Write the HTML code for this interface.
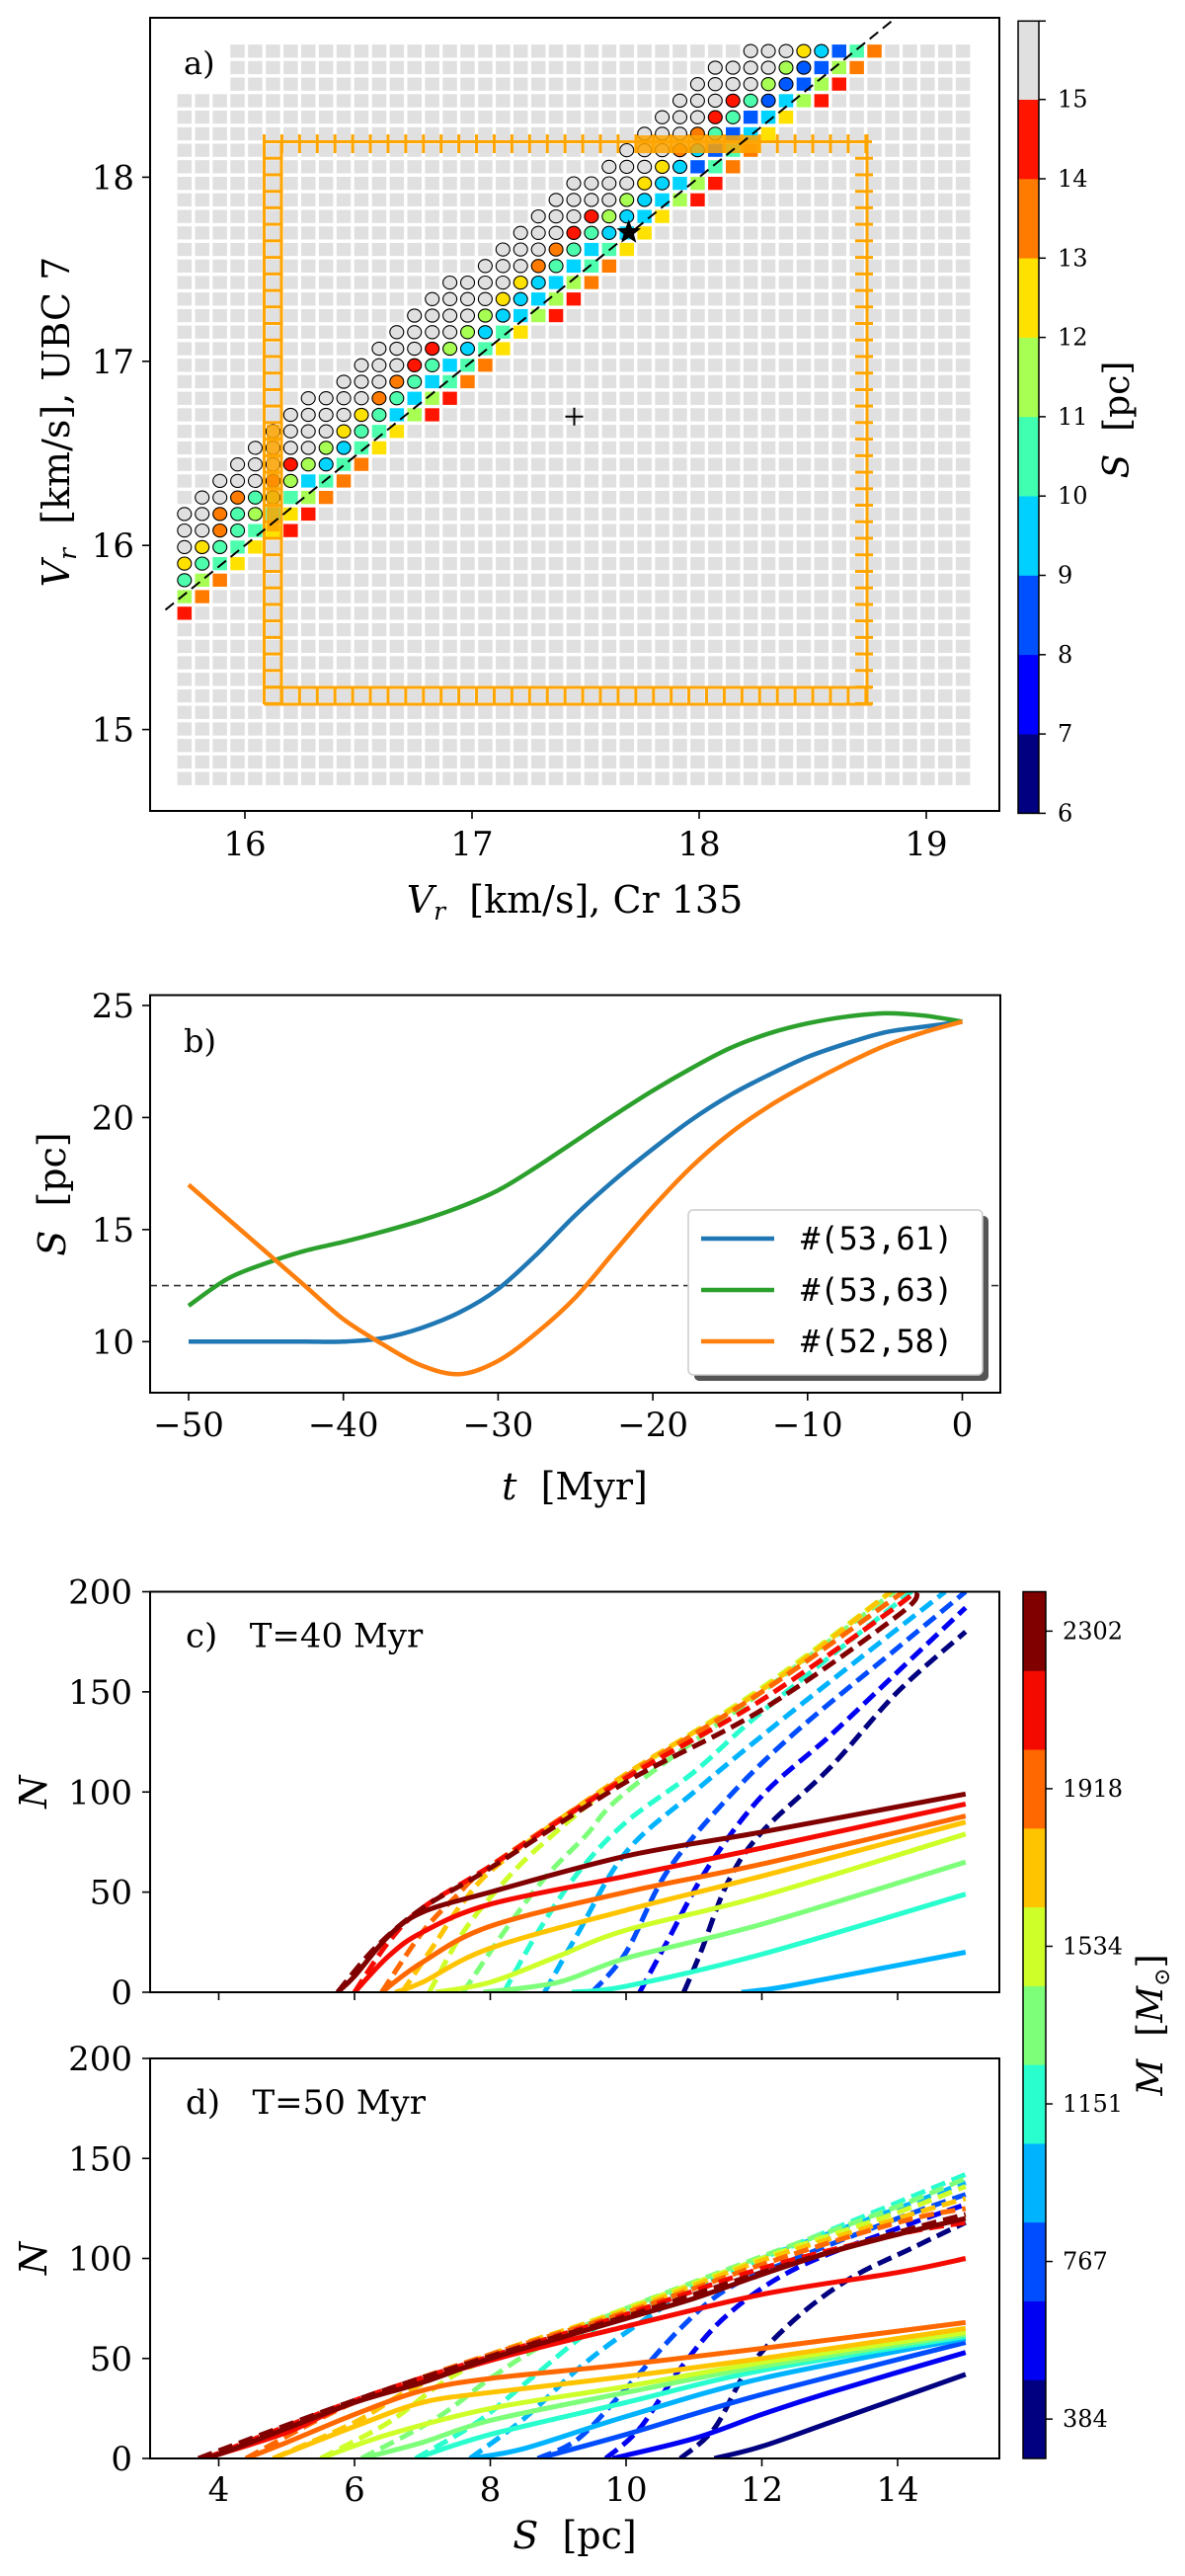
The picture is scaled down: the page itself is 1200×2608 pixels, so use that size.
<!DOCTYPE html>
<html><head><meta charset="utf-8"><style>
html,body{margin:0;padding:0;background:#fff}
svg{display:block}
text{font-family:"DejaVu Serif","Liberation Serif",serif;fill:#000}
.mono{font-family:"DejaVu Sans Mono","Liberation Mono",monospace}
</style></head><body>
<svg id="fig" xmlns="http://www.w3.org/2000/svg" width="1200" height="2608" viewBox="0 0 1200 2608">
<defs>
<clipPath id="clipA"><rect x="152" y="18" width="860" height="803"/></clipPath>
<clipPath id="clipB"><rect x="152" y="1007.5" width="861" height="402.5"/></clipPath>
<clipPath id="clipC"><rect x="152" y="1611.5" width="860" height="405.5"/></clipPath>
<clipPath id="clipD"><rect x="152" y="2084" width="860" height="405"/></clipPath>
</defs>
<g id="panelA"></g>
<g id="panelB"></g>
<g id="panelC"></g>
<g id="panelD"></g>
<g id="cbars"></g>
</svg>
<script>
// ---------- Panel a data ----------
const gridX0 = 15.734, gridDX = 0.0779, gridYTop = 18.685, gridDY = 0.0898;
const gridCols = 45, gridRows = 45;
// band rows: [startCol, circle codes, square codes]
const bandRows = [
 [32,"GGGYC","BAO"],[30,"GGGGLB","BLO"],[29,"GGGGLB","BLR"],[28,"GGGRAB","CLR"],
 [27,"GGGRA","BCY"],[26,"GGGOA","BCY"],[25,"GGGOC","BAO"],[24,"GGGYC","BAO"],
 [22,"GGGGYC","CLR"],[21,"GGGGLC","CLR"],[20,"GGGRLC","CY"],[19,"GGGRAC","CY"],
 [18,"GGGOA","CAY"],[17,"GGGOA","CAO"],[15,"GGGGYC","CLO"],[14,"GGGGYC","CLR"],
 [13,"GGGGLC","CLR"],[12,"GGGGLC","AY"],[11,"GGGRLC","AY"],[10,"GGGRA","CAO"],
 [9,"GGGOA","CAO"],[7,"GGGGOA","CLR"],[6,"GGGGYA","CLR"],[5,"GGGGYA","AY"],
 [4,"GGGGLC","AY"],[3,"GGGRLC","AO"],[2,"GGGRL","CAO"],[1,"GGOAL","ALO"],
 [0,"GGOAL","AYR"],[0,"GGOA","AYR"],[0,"GYA","AY"],[0,"YA","AY"],[0,"A","LO"],[0,"","LO"],[0,"","R"]
];
const starPoint = [17.69, 17.70];
const plusPoint = [17.45, 16.70];
const aXTicks = [16,17,18,19];
const aYTicks = [15,16,17,18];
const sLevels = [6,7,8,9,10,11,12,13,14,15];
// ---------- Panel b data ----------
const tVals = [-50,-47.5,-45,-42.5,-40,-37.5,-35,-32.5,-30,-27.5,-25,-22.5,-20,-17.5,-15,-12.5,-10,-7.5,-5,-2.5,0];
const sBlue = [10,10,10,10,10,10.15,10.6,11.3,12.35,13.9,15.65,17.2,18.6,19.9,21.0,21.9,22.7,23.3,23.8,24.05,24.28];
const sGreen = [11.6,12.8,13.5,14.05,14.45,14.9,15.4,16.0,16.75,17.8,18.95,20.1,21.2,22.2,23.1,23.75,24.2,24.5,24.65,24.55,24.28];
const sOrange = [17.0,15.5,14.0,12.5,11.0,9.9,8.95,8.55,9.14,10.4,11.98,14.0,16.0,17.8,19.3,20.5,21.5,22.4,23.2,23.8,24.28];
const thresholdS = 12.5;
const legendLabels = ["#(53,61)","#(53,63)","#(52,58)"];
const bXTicks = [-50,-40,-30,-20,-10,0];
const bYTicks = [10,15,20,25];
// ---------- Panels c/d data ----------
const massLabels = [384,576,767,959,1151,1343,1534,1726,1918,2110,2302];
const cSolid = [[],[],[],
 [[11.7,0],[12.2,2],[13,7],[15,20]],
 [[9.2,0],[10,3],[12,19],[15,49]],
 [[7.9,0],[9,5],[10,17],[12,34],[15,65]],
 [[7.2,0],[8,5],[9,18],[10,31],[12,48],[15,79]],
 [[6.6,0],[7,5],[8,22],[10,41],[12,58],[15,85]],
 [[6.4,0],[7,15],[8,33],[10,50],[12,64],[15,88]],
 [[6.0,0],[6.5,18],[7,30],[8,44],[10,58],[12,72],[15,94]],
 [[5.75,0],[6.0,8],[6.5,28],[7.0,40],[8,50],[10,68],[12,80],[15,99]]];
const cDashed = [
 [[10.85,0],[11.1,20],[11.5,55],[12,80],[13,112],[14,150],[15,180]],
 [[10.2,0],[10.6,25],[11.2,62],[12,98],[13,128],[14,160],[15,192]],
 [[9.5,0],[10,20],[10.6,60],[11.5,97],[12.5,130],[14,172],[15,200]],
 [[8.8,0],[9.3,30],[10,70],[11,100],[12,128],[13,155],[14.7,200]],
 [[8.2,0],[8.7,30],[9.3,60],[10,85],[11,110],[12,140],[14.2,200]],
 [[7.6,0],[8.2,30],[8.8,57],[9.4,78],[10,100],[12,150],[13.95,200]],
 [[7.1,0],[7.6,30],[8.2,55],[8.8,75],[10,108],[12,152],[13.9,200]],
 [[6.7,0],[7.2,25],[7.6,45],[8.2,66],[10,109],[12,151],[13.9,200]],
 [[6.4,0],[7,30],[7.5,48],[8,63],[10,108],[12,150],[14,198],[14.05,200]],
 [[6.0,0],[6.5,25],[7,42],[8,63],[10,107],[12,146],[14,193],[14.2,200]],
 [[5.75,0],[6.3,22],[7,42],[8,62],[10,105],[12,141],[14,188],[14.3,200]]];
const dSolid = [
 [[11.3,0],[12,6],[13,18],[14,30],[15,42]],
 [[9.8,0],[11,10],[12,22],[13,33],[15,53]],
 [[8.7,0],[10,12],[12,32],[15,58]],
 [[7.7,0],[8.5,5],[10,21],[12,40],[15,60]],
 [[6.9,0],[8,12],[10,28],[12,44],[15,61]],
 [[6.1,0],[7,8],[8,19],[10,33],[12,46],[15,62]],
 [[5.5,0],[6.5,12],[8,25],[10,36],[12,48],[15,63]],
 [[4.8,0],[6,16],[7,28],[8,33],[10,41],[12,50],[15,65]],
 [[4.4,0],[5,8],[6,22],[7,34],[8,40],[10,47],[12,55],[15,68]],
 [[3.8,0],[5,13],[6,28],[8,49],[10,66],[12,82],[14,93],[15,100]],
 [[3.7,0],[4,2],[5,15],[6,28],[7,38],[8,50],[9,60],[10,70],[11,80],[12,92],[13,103],[14,112],[15,120]]];
const dDashed = [
 [[10.8,0],[11.3,15],[11.8,45],[12.5,70],[13.3,90],[14.2,105],[15,118]],
 [[9.7,0],[10.2,15],[10.8,45],[11.5,72],[12.5,95],[14,115],[15,127]],
 [[8.7,0],[9.3,10],[10,35],[10.8,65],[11.5,85],[12.5,100],[14,120],[15,132]],
 [[7.7,0],[8.5,20],[9.3,45],[10,63],[11,85],[12,100],[14,125],[15,138]],
 [[6.9,0],[7.8,18],[8.6,40],[9.4,62],[10,72],[12,100],[14,128],[15,142]],
 [[6.1,0],[7.2,20],[8,40],[8.8,57],[10,75],[12,101],[14,126],[15,140]],
 [[5.5,0],[6.5,18],[7.3,38],[8,50],[10,75],[12,100],[14,123],[15,136]],
 [[4.8,0],[6,18],[6.8,34],[8,52],[10,74],[12,99],[14,120],[15,130]],
 [[4.4,0],[5.5,20],[6.3,32],[8,52],[10,73],[12,97],[14,118],[15,125]],
 [[3.8,0],[6,29],[8,51],[10,72],[12,95],[14,112],[15,118]],
 [[3.7,0],[6,29],[8,51],[10,71],[12,93],[14,113],[15,122]]];
const cdXTicks = [4,6,8,10,12,14];
const cdYTicks = [0,50,100,150,200];

const NS = "http://www.w3.org/2000/svg";
function el(tag, attrs, parent, txt){
  const e = document.createElementNS(NS, tag);
  for (const k in attrs) e.setAttribute(k, attrs[k]);
  if (txt !== undefined) e.textContent = txt;
  parent.appendChild(e); return e;
}
function smooth(pts){
  let d = "M" + pts[0][0].toFixed(1) + "," + pts[0][1].toFixed(1);
  for (let i = 0; i < pts.length - 1; i++){
    const p0 = pts[Math.max(i-1,0)], p1 = pts[i], p2 = pts[i+1], p3 = pts[Math.min(i+2,pts.length-1)];
    const c1 = [p1[0]+(p2[0]-p0[0])/6, p1[1]+(p2[1]-p0[1])/6];
    const c2 = [p2[0]-(p3[0]-p1[0])/6, p2[1]-(p3[1]-p1[1])/6];
    d += "C"+c1[0].toFixed(1)+","+c1[1].toFixed(1)+" "+c2[0].toFixed(1)+","+c2[1].toFixed(1)+" "+p2[0].toFixed(1)+","+p2[1].toFixed(1);
  }
  return d;
}

// ===== Panel a =====
const A = document.getElementById("panelA");
const xa = v => 248 + (v - 16) * 230;
const ya = v => 552.2 - (v - 16) * 186.4;
const sColors = {G:"#e0e0e0",R:"#ff1500",O:"#ff7b00",Y:"#ffe100",L:"#a6ff52",A:"#4dffad",C:"#00d4ff",B:"#0058ff",N:"#0000ff"};
const gridG = el("g", {"clip-path":"url(#clipA)"}, A);


for (let r = 0; r < gridRows; r++){
  for (let c = 0; c < gridCols; c++){
    if (r < 3 && c < 3) continue;
    const cx = xa(gridX0 + c * gridDX), cy = ya(gridYTop - r * gridDY);
    let kind = "sq", col = "#e0e0e0";
    const b = bandRows[r];
    if (b){
      const k = c - b[0];
      if (k >= 0 && k < b[1].length){ kind = "ci"; col = sColors[b[1][k]]; }
      else if (k >= b[1].length && k < b[1].length + b[2].length){ col = sColors[b[2][k - b[1].length]]; }
    }
    if (kind === "sq"){
      const s = el("rect", {x:(cx-7.25).toFixed(1), y:(cy-6.65).toFixed(1), width:14.5, height:13.3, fill:col}, gridG);
      
      
    } else {
      const s = el("ellipse", {cx:cx.toFixed(1), cy:cy.toFixed(1), rx:7, ry:6.6, fill:col, stroke:"#000", "stroke-width":1.1}, gridG);
      
      
    }
  }
}
// orange frame
const fr = el("g", {stroke:"#ffa500", "stroke-width":3, fill:"none"}, A);


el("rect", {x:643, y:137, width:126, height:18, fill:"#ffa500", stroke:"none", opacity:0.85}, fr);
el("rect", {x:270, y:430, width:13, height:108, fill:"#ffa500", stroke:"none", opacity:0.85}, fr);
el("line", {x1:267.5, y1:143.5, x2:883, y2:143.5}, fr);
for (let x = 267.5; x <= 884; x += 17.92) el("line", {x1:x, y1:136, x2:x, y2:155}, fr);
el("line", {x1:267.5, y1:136, x2:267.5, y2:713}, fr);
el("line", {x1:285, y1:143, x2:285, y2:713}, fr);
for (let y = 143.5 + 16.73; y < 713; y += 16.73) el("line", {x1:267.5, y1:y, x2:285, y2:y}, fr);
el("line", {x1:267.5, y1:696, x2:883, y2:696}, fr);
el("line", {x1:267.5, y1:713, x2:883, y2:713}, fr);
for (let x = 267.5; x <= 884; x += 17.92) el("line", {x1:x, y1:696, x2:x, y2:713}, fr);
el("line", {x1:878, y1:136, x2:878, y2:713}, fr);
for (let y = 143.5 + 16.73; y < 713; y += 16.73) el("line", {x1:866, y1:y, x2:884, y2:y}, fr);
// diagonal
const dg = el("line", {x1:xa(15.65), y1:ya(15.65), x2:xa(18.86), y2:ya(18.86), stroke:"#000", "stroke-width":2, "stroke-dasharray":"11,6"}, A);


// star
{
  const sx = xa(starPoint[0]), sy = ya(starPoint[1]);
  let p = "";
  for (let i = 0; i < 10; i++){ const rr = i % 2 ? 5.5 : 13; const an = -Math.PI/2 + i * Math.PI/5; p += (sx + rr*Math.cos(an)).toFixed(1) + "," + (sy + rr*Math.sin(an)).toFixed(1) + " "; }
  const st = el("polygon", {points:p, fill:"#000"}, A);
  
  
  const px = xa(plusPoint[0]), py = ya(plusPoint[1]);
  const pl = el("path", {d:`M${px-9},${py}H${px+9}M${px},${py-9}V${py+9}`, stroke:"#000", "stroke-width":2}, A);
  
  
}
el("rect", {x:152, y:18, width:860, height:803, fill:"none", stroke:"#000", "stroke-width":2}, A);
aXTicks.forEach(v => { el("line", {x1:xa(v), y1:821, x2:xa(v), y2:829, stroke:"#000", "stroke-width":1.6}, A);
  const t = el("text", {x:xa(v), y:866, "font-size":34, "text-anchor":"middle"}, A, v);
    });
aYTicks.forEach(v => { el("line", {x1:144, y1:ya(v), x2:152, y2:ya(v), stroke:"#000", "stroke-width":1.6}, A);
  const t = el("text", {x:136, y:ya(v)+12, "font-size":34, "text-anchor":"end"}, A, v);
    });
</script>
<script>
// static labels panel a
(function(){
  const A = document.getElementById("panelA");
  A.insertAdjacentHTML("beforeend",
   '<text x="186" y="75" font-size="32">a)</text>' +
   '<text x="582" y="924" font-size="38" text-anchor="middle"><tspan font-style="italic">V</tspan><tspan font-style="italic" font-size="25" dy="7">r</tspan><tspan dy="-7">\u00a0\u00a0[km/s], Cr 135</tspan></text>' +
   '<text transform="translate(70,427) rotate(-90)" font-size="38" text-anchor="middle"><tspan font-style="italic">V</tspan><tspan font-style="italic" font-size="25" dy="7">r</tspan><tspan dy="-7">\u00a0\u00a0[km/s], UBC 7</tspan></text>');
})();
</script>
<script>
// ===== Panel b =====
(function(){
const B = document.getElementById("panelB");
const xb = t => 974.5 + t * 15.67;
const yb = s => 1358.3 - (s - 10) * 22.69;
const thr = el("line", {x1:152, y1:yb(thresholdS), x2:1013, y2:yb(thresholdS), stroke:"#333", "stroke-width":1.6, "stroke-dasharray":"7,5"}, B);


const series = [[sBlue,"#1f77b4","curve-53-61"],[sGreen,"#2ca02c","curve-53-63"],[sOrange,"#ff7f0e","curve-52-58"]];
const g = el("g", {"clip-path":"url(#clipB)"}, B);
series.forEach(s => {
  const pts = tVals.map((t,i) => [xb(t), yb(s[0][i])]);
  const p = el("path", {d:smooth(pts), fill:"none", stroke:s[1], "stroke-width":4.5}, g);
  
  
});
el("rect", {x:152, y:1007.5, width:861, height:402.5, fill:"none", stroke:"#000", "stroke-width":2}, B);
bXTicks.forEach(v => { el("line", {x1:xb(v), y1:1410, x2:xb(v), y2:1418, stroke:"#000", "stroke-width":1.6}, B);
  const t = el("text", {x:xb(v), y:1454, "font-size":34, "text-anchor":"middle"}, B, v < 0 ? "\u2212" + (-v) : v);
    });
bYTicks.forEach(v => { el("line", {x1:144, y1:yb(v), x2:152, y2:yb(v), stroke:"#000", "stroke-width":1.6}, B);
  const t = el("text", {x:136, y:yb(v)+12, "font-size":34, "text-anchor":"end"}, B, v);
    });
// legend
const lg = el("g", {}, B);


el("rect", {x:703, y:1231, width:298, height:167, rx:5, fill:"#555"}, lg);
el("rect", {x:697, y:1225, width:298, height:167, rx:5, fill:"#fff", stroke:"#ccc", "stroke-width":1.5}, lg);
series.forEach((s,i) => {
  const y = 1254 + i * 52;
  el("line", {x1:710, y1:y, x2:784, y2:y, stroke:s[1], "stroke-width":4.5}, lg);
  const t = el("text", {x:811, y:y+11, "font-size":32, class:"mono"}, lg, legendLabels[i]);
  
  
});
B.insertAdjacentHTML("beforeend",
 '<text x="186" y="1065" font-size="32">b)</text>' +
 '<text x="582" y="1518" font-size="38" text-anchor="middle"><tspan font-style="italic">t</tspan>\u00a0\u00a0[Myr]</text>' +
 '<text transform="translate(66,1209) rotate(-90)" font-size="38" text-anchor="middle"><tspan font-style="italic">S</tspan>\u00a0\u00a0[pc]</text>');
})();
</script>
<script>
// ===== Panels c, d =====
(function(){
const jet = ["#000080","#0000f3","#004cff","#00b3ff","#29ffce","#7dff7a","#ceff29","#ffc400","#ff6800","#f50a00","#800000"];
const xc = s => 221.5 + (s - 4) * 68.75;
function panel(gid, top, bottom, solid, dashed, clip, label, showX){
  const G = document.getElementById(gid);
  const yy = n => bottom - n * (bottom - top) / 200;
  const g = el("g", {"clip-path":"url(#" + clip + ")"}, G);
  for (let i = 0; i < 11; i++){
    [[dashed[i],"15,7","dashed"],[solid[i],null,"solid"]].forEach(s => {
      if (!s[0].length) return;
      const pts = s[0].map(p => [xc(p[0]), yy(p[1])]);
      const a = {d:smooth(pts), fill:"none", stroke:jet[i], "stroke-width":5};
      if (s[1]) a["stroke-dasharray"] = s[1];
      const p = el("path", a, g);
      
      
    });
  }
  el("rect", {x:152, y:top, width:860, height:bottom-top, fill:"none", stroke:"#000", "stroke-width":2}, G);
  cdXTicks.forEach(v => { el("line", {x1:xc(v), y1:bottom, x2:xc(v), y2:bottom+8, stroke:"#000", "stroke-width":1.6}, G);
    if (showX){ const t = el("text", {x:xc(v), y:2532, "font-size":34, "text-anchor":"middle"}, G, v);
        } });
  cdYTicks.forEach(v => { el("line", {x1:144, y1:yy(v), x2:152, y2:yy(v), stroke:"#000", "stroke-width":1.6}, G);
    const t = el("text", {x:134, y:yy(v)+12, "font-size":34, "text-anchor":"end"}, G, v);
      });
  G.insertAdjacentHTML("beforeend",
   '<text x="188" y="' + (top+56) + '" font-size="34">' + label + '</text>' +
   '<text transform="translate(47,' + ((top+bottom)/2) + ') rotate(-90)" font-size="38" font-style="italic" text-anchor="middle">N</text>');
}
panel("panelC", 1611.5, 2017, cSolid, cDashed, "clipC", "c)\u00a0\u00a0\u00a0T=40 Myr", false);
panel("panelD", 2084, 2489, dSolid, dDashed, "clipD", "d)\u00a0\u00a0\u00a0T=50 Myr", true);
document.getElementById("panelD").insertAdjacentHTML("beforeend",
 '<text x="582" y="2580" font-size="38" text-anchor="middle"><tspan font-style="italic">S</tspan>\u00a0\u00a0[pc]</text>');

// ===== Colorbars =====
const CB = document.getElementById("cbars");
const aCols = ["#000080","#0000ff","#0050ff","#00d0ff","#40ffb0","#a6ff52","#ffe100","#ff7b00","#ff1500","#e0e0e0"];
const yS = v => 823.4 - (v - 6) * 80.3;
for (let i = 0; i < 10; i++){
  const r = el("rect", {x:1031, y:yS(7+i), width:21, height:80.6, fill:aCols[i]}, CB);
  
  
}
el("rect", {x:1031, y:21.3, width:21, height:802.1, fill:"none", stroke:"#000", "stroke-width":1.5}, CB);
sLevels.forEach(v => { el("line", {x1:1052, y1:yS(v), x2:1059, y2:yS(v), stroke:"#000", "stroke-width":1.5}, CB);
  const t = el("text", {x:1071, y:yS(v)+8, "font-size":24}, CB, v);
    });
el("line", {x1:1052, y1:21.3, x2:1059, y2:21.3, stroke:"#000", "stroke-width":1.5}, CB);
const segH = (2489 - 1611.5) / 11;
for (let i = 0; i < 11; i++){
  const r = el("rect", {x:1036, y:2489 - (i+1)*segH, width:23, height:segH+0.5, fill:jet[i]}, CB);
  
  
}
el("rect", {x:1036, y:1611.5, width:23, height:877.5, fill:"none", stroke:"#000", "stroke-width":1.5}, CB);
massLabels.forEach((m,i) => { if (i % 2) return; const y = 2489 - (i+0.5)*segH;
  el("line", {x1:1059, y1:y, x2:1066, y2:y, stroke:"#000", "stroke-width":1.5}, CB);
  const t = el("text", {x:1076, y:y+8, "font-size":24}, CB, m);
    });
CB.insertAdjacentHTML("beforeend",
 '<text transform="translate(1143,425) rotate(-90)" font-size="36" text-anchor="middle"><tspan font-style="italic">S</tspan>\u00a0\u00a0[pc]</text>' +
 '<text transform="translate(1177,2050) rotate(-90)" font-size="36" text-anchor="middle"><tspan font-style="italic">M</tspan>\u00a0\u00a0[<tspan font-style="italic">M</tspan><tspan font-size="22" dy="7">\u2299</tspan><tspan dy="-7">]</tspan></text>');
})();
</script>
</body></html>
